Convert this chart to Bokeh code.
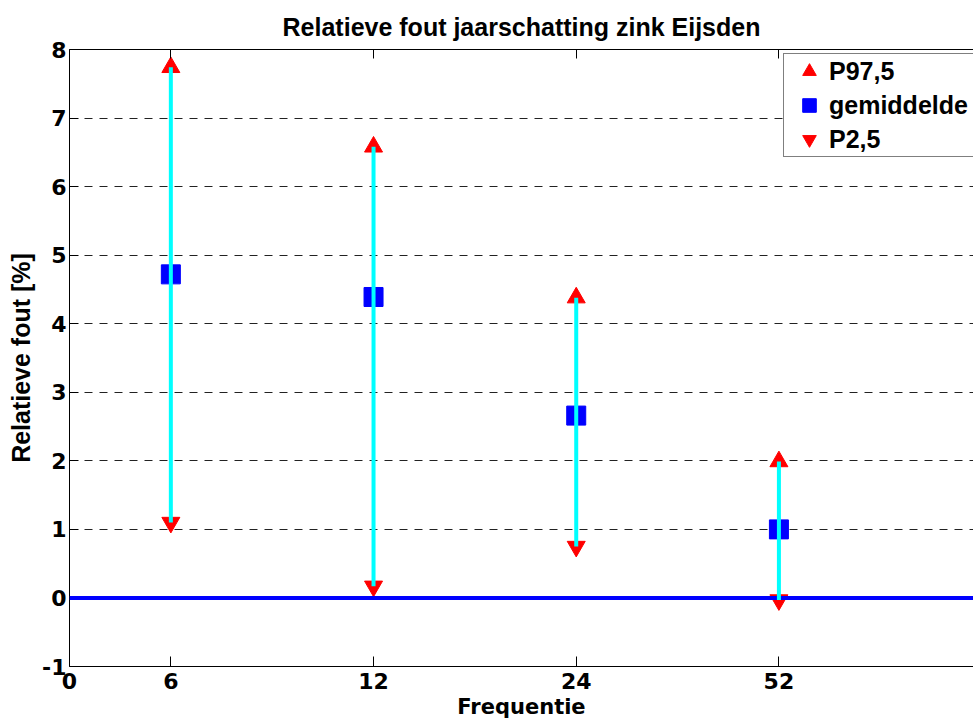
from bokeh.plotting import figure
from bokeh.models import FixedTicker, LinearAxis, Range1d, Span, Legend, LegendItem, Grid
from bokeh.embed import file_html
from bokeh.resources import INLINE

# ---- data ----
freq_labels = ["6", "12", "24", "52"]
p975 = [7.74, 6.58, 4.38, 1.99]
mean = [4.72, 4.39, 2.66, 1.00]
p25 = [1.10, 0.17, 0.75, -0.03]
y_ticks = [-1, 0, 1, 2, 3, 4, 5, 6, 7, 8]
y_tick_labels = ["-1", "0", "1", "2", "3", "4", "5", "6", "7", "8"]
title_text = "Relatieve fout jaarschatting zink Eijsden"

xpos = [i + 0.5 for i in range(len(freq_labels))]
x_ticks = [0] + xpos
x_overrides = {0: "0"}
for xv, lab in zip(xpos, freq_labels):
    x_overrides[xv] = lab
y_overrides = dict(zip(y_ticks, y_tick_labels))

FONT = "Liberation Sans"
TICKFONT = "DejaVu Sans"

p = figure(width=973, height=724,
           x_range=Range1d(0, 4.46), y_range=Range1d(-1, 8),
           output_backend="svg", toolbar_location=None,
           x_axis_location=None, y_axis_location=None,
           min_border_left=69, min_border_right=0,
           min_border_top=49, min_border_bottom=58)
p.outline_line_color = None
p.background_fill_color = "white"
p.border_fill_color = "white"
for g in list(p.center):
    if isinstance(g, Grid):
        g.visible = False

p.title.text = title_text
p.title.text_font = FONT
p.title.text_font_size = "25px"
p.title.text_font_style = "bold"
p.title.text_color = "black"
p.title.align = "center"
p.title.standoff = 17


def style_axis(ax, tick_in):
    ax.axis_line_color = "black"
    ax.axis_line_width = 1
    ax.major_tick_in = tick_in
    ax.major_tick_out = 0
    ax.major_tick_line_color = "black"
    ax.minor_tick_line_color = None
    ax.major_label_text_font = TICKFONT
    ax.major_label_text_font_size = "22px"
    ax.major_label_text_font_style = "bold"
    ax.major_label_text_color = "black"
    ax.axis_label_text_font = FONT
    ax.axis_label_text_font_size = "25px"
    ax.axis_label_text_font_style = "bold"
    ax.axis_label_text_color = "black"


xaxis = LinearAxis(ticker=FixedTicker(ticks=x_ticks), major_label_overrides=x_overrides,
                   axis_label="Frequentie")
style_axis(xaxis, 10)
xaxis.axis_label_text_font = TICKFONT
xaxis.axis_label_text_font_size = "21px"
xaxis.major_label_standoff = 6
xaxis.axis_label_standoff = 3
p.add_layout(xaxis, "below")

yaxis = LinearAxis(ticker=FixedTicker(ticks=y_ticks), major_label_overrides=y_overrides,
                   axis_label="Relatieve fout [%]")
style_axis(yaxis, 9)
yaxis.major_label_standoff = 3
yaxis.axis_label_standoff = 4
p.add_layout(yaxis, "left")

top = LinearAxis(ticker=FixedTicker(ticks=x_ticks))
style_axis(top, 9)
top.major_label_text_font_size = "0px"
top.major_label_standoff = 0
top.major_label_text_color = None
p.add_layout(top, "above")

grid = Grid(dimension=1, ticker=FixedTicker(ticks=y_ticks),
            grid_line_color="#222222", grid_line_width=1, grid_line_dash="8 7")
p.add_layout(grid)

r_up = p.scatter(xpos, p975, marker="triangle", size=18, fill_color="red", line_color="red")
r_mean = p.scatter(xpos, mean, marker="square", size=19, fill_color="blue", line_color="blue")
r_down = p.scatter(xpos, p25, marker="inverted_triangle", size=18, fill_color="red", line_color="red")

zero = Span(location=0, dimension="width", line_color="blue", line_width=4)
p.add_layout(zero)

p.segment(x0=xpos, y0=p25, x1=xpos, y1=p975, line_color="cyan", line_width=4, level="overlay")

legend = Legend(items=[LegendItem(label="P97,5", renderers=[r_up]),
                       LegendItem(label="gemiddelde", renderers=[r_mean]),
                       LegendItem(label="P2,5", renderers=[r_down])],
                location=(714, 509))
legend.spacing = 0
legend.padding = dict(left=5, right=5, top=0, bottom=0)
legend.glyph_width = 40
legend.glyph_height = 34
legend.label_height = 34
legend.label_standoff = 0
legend.label_width = 139
legend.margin = 0
legend.border_line_color = "black"
legend.border_line_width = 1
legend.background_fill_color = "white"
legend.background_fill_alpha = 1
legend.label_text_font = FONT
legend.label_text_font_size = "25px"
legend.label_text_font_style = "bold"
legend.label_text_color = "black"
p.add_layout(legend)

open("out.html", "w").write(file_html(p, INLINE))
